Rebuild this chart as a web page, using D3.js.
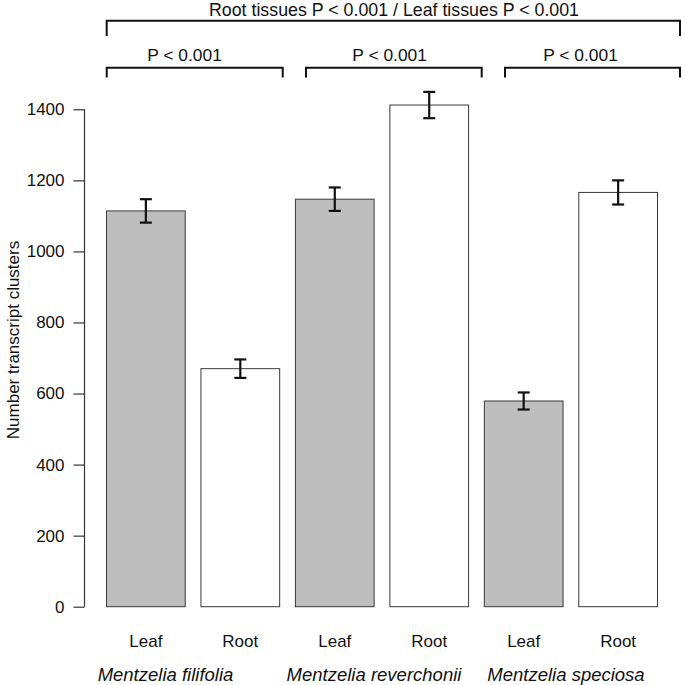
<!DOCTYPE html>
<html>
<head>
<meta charset="utf-8">
<script src="https://cdn.jsdelivr.net/npm/d3@7"></script>
<style>
  html, body { margin: 0; padding: 0; background: #fff; }
  svg { display: block; font-family: "Liberation Sans", Arial, Helvetica, sans-serif; }
</style>
</head>
<body>
<svg id="chart" width="685" height="685"></svg>
<script>
// ---- data ----
const species = ["Mentzelia filifolia", "Mentzelia reverchonii", "Mentzelia speciosa"];
const tissues = ["Leaf", "Root"];
const leafValues = [1114, 1147, 579];
const rootValues = [670, 1412, 1166];
const leafErrors = [33, 33, 24];
const rootErrors = [26, 37, 34];
const yTicks = [0, 200, 400, 600, 800, 1000, 1200, 1400];
const yTitle = "Number transcript clusters";
const groupTest = ["P < 0.001", "P < 0.001", "P < 0.001"];
const overallTest = "Root tissues P < 0.001 / Leaf tissues P < 0.001";

// build bar records
const bars = [];
species.forEach((sp, i) => {
  bars.push({ key: sp + "|Leaf", species: sp, tissue: tissues[0], value: leafValues[i], err: leafErrors[i] });
  bars.push({ key: sp + "|Root", species: sp, tissue: tissues[1], value: rootValues[i], err: rootErrors[i] });
});

const svg = d3.select("#chart");

// plot region (R barplot style: space 0.2)
const plotLeft = 84.5;
const x = d3.scaleBand()
  .domain(bars.map(d => d.key))
  .range([106.5, 657.5])
  .paddingInner(0.2 / 1.2)
  .paddingOuter(0);

const y = d3.scaleLinear().domain([0, 1400]).range([606.7, 109.3]);

const fill = { Leaf: "#bebebe", Root: "#ffffff" };

// bars
svg.append("g").selectAll("rect").data(bars).join("rect")
  .attr("x", d => x(d.key))
  .attr("y", d => y(d.value))
  .attr("width", x.bandwidth())
  .attr("height", d => y(0) - y(d.value))
  .attr("fill", d => fill[d.tissue])
  .attr("stroke", "#3a3a3a")
  .attr("stroke-width", 1);

// error bars
const eb = svg.append("g").attr("stroke", "#111").attr("stroke-width", 2.2).attr("fill", "none");
bars.forEach(d => {
  const cx = x(d.key) + x.bandwidth() / 2;
  const hi = y(d.value + d.err), lo = y(d.value - d.err);
  eb.append("line").attr("x1", cx).attr("x2", cx).attr("y1", hi).attr("y2", lo);
  eb.append("line").attr("x1", cx - 6).attr("x2", cx + 6).attr("y1", hi).attr("y2", hi);
  eb.append("line").attr("x1", cx - 6).attr("x2", cx + 6).attr("y1", lo).attr("y2", lo);
});

// y axis
const yAxis = d3.axisLeft(y).tickValues(yTicks).tickSize(11).tickPadding(9).tickFormat(d3.format("d"));
const ga = svg.append("g").attr("transform", `translate(${plotLeft},0)`).call(yAxis);
ga.select(".domain").attr("stroke", "#333").attr("stroke-width", 1.2).attr("d", `M0,${y(0)}V${y(1400)}`);
ga.selectAll(".tick line").attr("stroke", "#333").attr("stroke-width", 1.2);
ga.selectAll(".tick text").attr("font-size", 17).attr("fill", "#111")
  .attr("font-family", "'Liberation Sans', Arial, sans-serif");

// y title
svg.append("text")
  .attr("transform", `translate(19,340) rotate(-90)`)
  .attr("text-anchor", "middle")
  .attr("font-size", 17)
  .attr("fill", "#111")
  .text(yTitle);

// category labels under bars
svg.append("g").selectAll("text").data(bars).join("text")
  .attr("x", d => x(d.key) + x.bandwidth() / 2)
  .attr("y", 647)
  .attr("text-anchor", "middle")
  .attr("font-size", 17)
  .attr("fill", "#111")
  .text(d => d.tissue);

// species labels
const speciesX = [165.5, 374, 566];
svg.append("g").selectAll("text").data(species).join("text")
  .attr("x", (d, i) => speciesX[i])
  .attr("y", 681)
  .attr("text-anchor", "middle")
  .attr("font-size", 18.5)
  .attr("font-style", "italic")
  .attr("fill", "#111")
  .text(d => d);

// brackets
const br = svg.append("g").attr("stroke", "#111").attr("stroke-width", 2).attr("fill", "none");
const bracket = (x1, x2, yTop, yBot) =>
  br.append("path").attr("d", `M${x1},${yBot}V${yTop}H${x2}V${yBot}`);

const groupBracketX = [[106.7, 282.7], [306, 481.7], [505, 680]];
groupBracketX.forEach(([a, b]) => bracket(a, b, 67.7, 77.5));
bracket(106.7, 680, 20.7, 36);

// bracket labels
const groupLabelX = [184.5, 389.6, 580.5];
svg.append("g").selectAll("text").data(groupTest).join("text")
  .attr("x", (d, i) => groupLabelX[i])
  .attr("y", 61.3)
  .attr("text-anchor", "middle")
  .attr("font-size", 17.4)
  .attr("fill", "#111")
  .text(d => d);

svg.append("text")
  .attr("x", 394)
  .attr("y", 15.5)
  .attr("text-anchor", "middle")
  .attr("font-size", 17.8)
  .attr("fill", "#111")
  .text(overallTest);
</script>
</body>
</html>
